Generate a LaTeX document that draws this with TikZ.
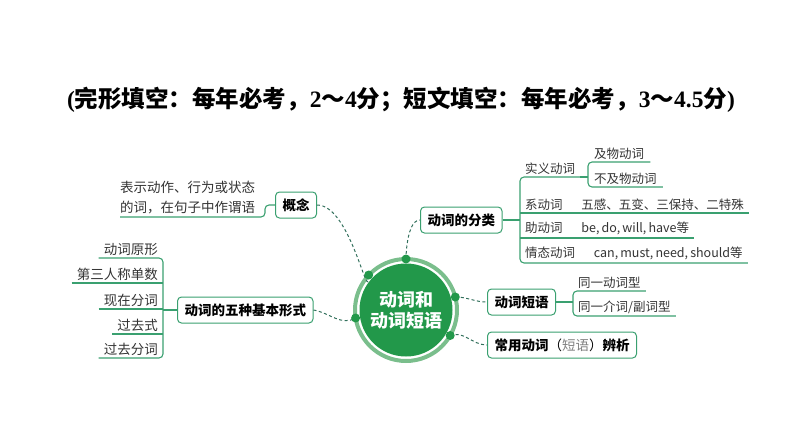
\documentclass[tikz,border=0pt]{standalone}
\usepackage{fontspec}
\setmainfont{Liberation Serif}
\newfontfamily\cjk{Noto Sans CJK SC}
\usepackage{xcolor}
\usepackage{tikz}

\definecolor{hubgreen}{RGB}{34,152,74}
\definecolor{ringgreen}{RGB}{122,190,140}
\definecolor{linegreen}{RGB}{58,160,112}
\definecolor{dashgreen}{RGB}{50,112,92}
\definecolor{leafgray}{RGB}{51,51,51}

\tikzset{
  box/.style={draw=linegreen, line width=1pt, rounded corners=4pt, fill=white,
    minimum height=26pt, inner xsep=7pt, anchor=west,
    font=\cjk\bfseries\fontsize{13.5}{15}\selectfont},
  leaf/.style={inner xsep=5pt, inner ysep=2.5pt, text=leafgray,
    font=\cjk\fontsize{12.5}{15}\selectfont},
  bigleaf/.style={leaf, anchor=south east, font=\cjk\fontsize{13.5}{15}\selectfont},
  branch/.style={draw=linegreen, line width=1.1pt, rounded corners=4pt},
  link/.style={draw=dashgreen, line width=1pt, dash pattern=on 3pt off 2.5pt},
}

\begin{document}
\begin{tikzpicture}[x=1pt, y=-1pt]
\useasboundingbox (0,0) rectangle (794,447);

% title
\node (title) at (401,100) {\fontsize{23.5}{26}\selectfont\bfseries
  ({\cjk 完形填空：每年必考，}2{\cjk ～}4{\cjk 分；短文填空：每年必考，}3{\cjk ～}4.5{\cjk 分})};

% hub
\node[circle, fill=hubgreen, minimum size=93pt, inner sep=0pt, text=white, align=center,
  font=\cjk\bfseries\fontsize{18}{21}\selectfont] (hub) at (406,310) {动词和\\动词短语};
\draw[ringgreen, line width=4pt] (hub.center) circle (51);

\coordinate (d1) at (406,259);
\coordinate (d2) at (368.7,275);
\coordinate (d3) at (355.6,318);
\coordinate (d4) at (455.3,297);
\coordinate (d5) at (450.2,335.5);

% boxes
\node[box] (gainian) at (275,205) {概念};
\node[box] (fenlei) at (420,220) {动词的分类};
\node[box] (wuzhong) at (177,310) {动词的五种基本形式};
\node[box] (duanyu) at (487,302) {动词短语};
\node[box, minimum width=148pt] (bianxi) at (487,345)
  {常用动词{\mdseries（\textcolor{gray}{短语}）}辨析};

% definition
\node[leaf, anchor=south west, align=left, inner xsep=0pt, font=\cjk\fontsize{13.5}{20}\selectfont]
  (dingyi) at (120,217) {表示动作、行为或状态\\的词，在句子中作谓语};
\draw[branch] (dingyi.south west) -- (265,217) -- (265,205) -- (gainian.west);

% classes
\node[leaf, anchor=south west] (shiyi) at (520,177) {实义动词};
\node[leaf, anchor=south west, inner xsep=6pt] (jiwu) at (588,162) {及物动词};
\node[leaf, anchor=south west, inner xsep=6pt] (bujiwu) at (588,187) {不及物动词};
\node[leaf, anchor=south west] (xi) at (520,213) {系动词\hspace{1.5em}五感、五变、三保持、二特殊};
\node[leaf, anchor=south west] (zhu) at (520,238) {助动词\hspace{1.5em}be,\,do,\,will,\,have等};
\node[leaf, anchor=south west] (qingtai) at (520,263) {情态动词\hspace{1.5em}can,\,must,\,need,\,should等};

\draw[branch] (shiyi.south east) -- (shiyi.south west) -- (qingtai.south west) -- (qingtai.south east);
\draw[branch] (xi.south west) -- (xi.south east);
\draw[branch] (zhu.south west) -- (zhu.south east);
\draw[branch] (shiyi.south east) -- (jiwu.south west |- shiyi.south east);
\draw[branch] (jiwu.south east) -- (jiwu.south west) -- (bujiwu.south west) -- (bujiwu.south east);
\draw[branch] (fenlei.east) -- (fenlei.east -| shiyi.south west);

% phrases
\node[leaf, anchor=south west] (dongci) at (573,291) {同一动词型};
\node[leaf, anchor=south west] (jieci) at (573,316) {同一介词/副词型};
\draw[branch] (dongci.south east) -- (dongci.south west) -- (jieci.south west) -- (jieci.south east);
\draw[branch] (duanyu.east) -- (duanyu.east -| dongci.south west);

% five forms
\node[bigleaf] (yuanxing) at (163,258) {动词原形};
\node[bigleaf] (disan) at (163,283) {第三人称单数};
\node[bigleaf] (xianzai) at (163,309) {现在分词};
\node[bigleaf] (guoqushi) at (163,334) {过去式};
\node[bigleaf] (guoqu) at (163,358) {过去分词};
\draw[branch] (yuanxing.south west) -- (yuanxing.south east) -- (guoqu.south east) -- (guoqu.south west);
\draw[branch] (disan.south west) -- (disan.south east);
\draw[branch] (xianzai.south west) -- (xianzai.south east);
\draw[branch] (guoqushi.south west) -- (guoqushi.south east);
\draw[branch] (wuzhong.west) -- (wuzhong.west -| yuanxing.south east);

% dashed links
\draw[link] (gainian.east) to[out=0, in=-90] (d2);
\draw[link] (d1) to[out=-90, in=180] (fenlei.west);
\draw[link] (d4) to[out=0, in=180] (duanyu.west);
\draw[link] (d5) to[out=20, in=180] (bianxi.west);
\draw[link] (wuzhong.east) to[out=-10, in=-150] (d3);

\foreach \d in {d1,d2,d3,d4,d5}
  \fill[hubgreen] (\d) circle (4.5);
\end{tikzpicture}
\end{document}
